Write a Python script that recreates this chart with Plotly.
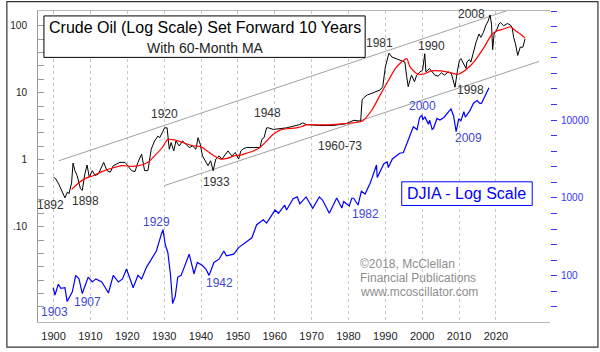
import plotly.graph_objects as go

# ---------------- data ----------------
# Crude oil: actual year, price ($/bbl); plotted 10 years forward
oil_year = [1890.0, 1890.6, 1891.5, 1892.4, 1893.1, 1893.8, 1894.2, 1894.9, 1895.3, 1895.8,
            1896.4, 1897.3, 1897.8, 1898.5, 1899.1, 1899.7, 1900.5, 1901.3, 1902.2, 1903.6,
            1904.5, 1905.4, 1906.2, 1908.0, 1909.4, 1911.2, 1912.1, 1912.9, 1913.9, 1914.7,
            1915.6, 1916.5, 1917.4, 1918.3, 1918.8, 1919.7, 1920.1, 1920.8, 1921.4, 1921.9,
            1922.6, 1923.2, 1924.1, 1925.0, 1925.9, 1926.8, 1927.7, 1928.6, 1929.2, 1929.8,
            1930.4, 1931.3, 1931.9, 1932.6, 1933.3, 1934.0, 1934.9, 1935.7, 1936.6, 1937.3,
            1938.4, 1939.3, 1940.2, 1940.8, 1941.6, 1942.4, 1944.2, 1946.0, 1946.5, 1947.1,
            1947.8, 1948.3, 1949.6, 1951.4, 1953.2, 1955.0, 1956.8, 1957.6, 1958.5, 1962.1,
            1965.7, 1969.2, 1971.5, 1973.3, 1973.7, 1974.2, 1975.1, 1976.4, 1978.6, 1979.3,
            1980.0, 1980.7, 1981.0, 1981.8, 1983.1, 1984.4, 1985.3, 1985.8, 1986.2, 1986.7,
            1987.1, 1987.9, 1988.5, 1989.4, 1990.1, 1990.7, 1991.0, 1992.0, 1993.4, 1994.3,
            1995.2, 1996.1, 1997.0, 1997.9, 1998.3, 1998.9, 1999.5, 2000.1, 2000.5, 2001.0,
            2001.4, 2001.9, 2002.1, 2002.8, 2003.2, 2003.9, 2004.6, 2005.4, 2005.9, 2006.6,
            2007.2, 2007.9, 2008.4, 2008.8, 2009.1, 2009.5, 2010.2, 2010.8, 2011.2, 2012.1,
            2013.1, 2013.9, 2014.4, 2014.8, 2015.3, 2015.9, 2016.6, 2017.3, 2017.9]
oil_price = [0.548, 0.518, 0.422, 0.330, 0.269, 0.330, 0.311, 0.452, 0.891, 0.686,
             0.579, 0.368, 0.348, 0.613, 0.832, 0.548, 0.686, 0.579, 0.613, 0.912,
             0.686, 0.650, 0.813, 0.912, 0.912, 0.686, 0.664, 0.912, 1.21, 0.686,
             0.686, 1.43, 1.90, 2.25, 2.13, 2.67, 2.99, 2.99, 1.43, 1.80,
             1.35, 1.90, 1.60, 1.90, 1.70, 1.52, 1.60, 1.43, 2.13, 1.70,
             1.14, 0.912, 0.813, 0.964, 0.686, 1.02, 1.14, 1.02, 1.21, 1.35,
             1.14, 1.28, 1.02, 1.35, 1.47, 1.52, 1.52, 1.52, 2.01, 2.13,
             2.99, 2.99, 2.83, 2.90, 2.99, 3.16, 3.35, 3.55, 3.35, 3.24,
             3.24, 3.43, 3.88, 3.75, 7.83, 8.47, 9.28, 9.84, 11.0, 12.3,
             24.3, 34.1, 39.0, 34.1, 32.3, 30.5, 28.7, 17.3, 12.3, 15.5,
             18.3, 14.6, 18.3, 20.5, 21.7, 38.3, 20.5, 23.0, 18.3, 17.7,
             19.8, 18.3, 20.5, 19.4, 16.4, 12.1, 20.5, 30.5, 32.3, 28.7,
             25.7, 23.0, 28.7, 31.2, 28.7, 42.8, 56.7, 75.5, 67.2, 79.6,
             100.0, 118.5, 145.0, 106.0, 43.8, 75.5, 86.4, 106.0, 112.0, 100.0,
             108.0, 103.0, 94.4, 67.2, 53.7, 36.1, 47.9, 47.9, 63.7]

# 60-month moving average of oil (actual year, value)
ma_year = [1894.9, 1896.9, 1898.7, 1900.9, 1903.1, 1905.8, 1908.5, 1911.2, 1913.9, 1915.6,
           1917.4, 1919.5, 1921.0, 1922.8, 1924.6, 1926.4, 1928.2, 1929.9, 1931.7, 1933.5,
           1935.3, 1937.1, 1938.9, 1940.7, 1942.4, 1944.2, 1946.0, 1947.8, 1949.6, 1951.4,
           1953.2, 1955.8, 1957.6, 1958.5, 1962.1, 1965.7, 1969.2, 1973.7, 1976.4, 1978.6,
           1980.9, 1982.7, 1984.4, 1985.8, 1986.7, 1988.5, 1990.3, 1992.5, 1995.2, 1997.9,
           1999.7, 2001.4, 2003.2, 2005.0, 2006.8, 2008.1, 2009.0, 2010.4, 2012.1, 2013.9,
           2015.3, 2016.6, 2017.9]
ma_value = [0.360, 0.452, 0.530, 0.579, 0.664, 0.745, 0.813, 0.796, 0.832, 0.912,
            1.14, 1.52, 2.01, 1.97, 1.84, 1.70, 1.60, 1.57, 1.35, 1.14,
            1.02, 1.045, 1.14, 1.17, 1.25, 1.35, 1.52, 1.90, 2.39, 2.76,
            2.90, 2.99, 3.16, 3.32, 3.32, 3.35, 3.47, 3.75, 5.57, 9.28,
            15.5, 23.0, 28.7, 32.3, 24.3, 19.4, 18.9, 21.2, 21.2, 19.8,
            18.9, 21.2, 25.7, 34.1, 47.9, 63.7, 75.5, 84.4, 89.4, 96.7,
            84.4, 75.5, 65.9]

# DJIA (year, index value)
dj_year = [1899.9, 1900.4, 1901.3, 1902.0, 1903.1, 1903.7, 1905.1, 1906.0, 1906.9, 1907.8,
           1909.4, 1910.5, 1911.5, 1913.1, 1914.9, 1916.2, 1917.6, 1918.7, 1919.8, 1921.6,
           1922.9, 1923.9, 1925.2, 1926.5, 1927.9, 1929.2, 1929.7, 1930.3, 1931.0, 1931.7,
           1932.3, 1933.0, 1933.7, 1934.6, 1936.8, 1938.1, 1939.0, 1940.4, 1941.3, 1942.2,
           1943.5, 1944.9, 1946.2, 1946.9, 1948.9, 1950.2, 1952.4, 1953.8, 1955.1, 1956.9,
           1957.8, 1960.1, 1961.0, 1962.7, 1963.2, 1965.0, 1966.1, 1966.8, 1968.5, 1970.3,
           1972.1, 1973.0, 1974.8, 1976.8, 1978.2, 1978.7, 1980.2, 1980.9, 1981.4, 1982.6,
           1983.5, 1984.5, 1985.9, 1987.6, 1987.8, 1989.6, 1990.5, 1990.8, 1991.9, 1993.9,
           1994.9, 1995.9, 1996.9, 1997.6, 1998.6, 1999.3, 1999.9, 2000.2, 2000.7, 2001.7,
           2002.0, 2002.7, 2003.1, 2004.0, 2004.8, 2005.9, 2007.0, 2007.8, 2008.5, 2008.9,
           2009.2, 2009.9, 2010.5, 2011.3, 2011.7, 2012.9, 2013.9, 2014.9, 2015.7, 2016.1,
           2016.9, 2017.9, 2018.1]
dj_value = [70, 56.5, 77.6, 68.9, 70, 46.5, 62, 101, 91.4, 59,
            96, 83, 91, 83, 60, 101, 83, 91, 122, 70,
            101, 91, 128, 163, 208, 337, 390, 252, 199, 106,
            44, 54, 96, 101, 189, 106, 148, 135, 122, 101,
            148, 163, 208, 180, 189, 230, 279, 307, 452, 523,
            474, 698, 634, 807, 698, 979, 1030, 840, 1030, 733,
            1030, 933, 634, 1000, 742, 900, 785, 990, 990, 810,
            1220, 1120, 1550, 2650, 1830, 2750, 2900, 2450, 3170, 3750,
            3830, 5100, 6450, 8200, 7550, 10800, 11500, 10100, 11000, 8850,
            10000, 7600, 7900, 10500, 10000, 10800, 12600, 13900, 11400, 8800,
            7100, 10400, 9800, 12800, 10900, 13100, 16500, 17800, 16300, 16500,
            19800, 24700, 26000]

# channel trend lines (plotted year, oil price)
upper_chan_year = [1901.4, 2025.8]
upper_chan_val = [0.96, 190]
lower_chan_year = [1930.1, 2031.7]
lower_chan_val = [0.41, 29.4]

SHIFT = 10
x_ticks = list(range(1900, 2030, 10))

# ticks every fifth of a decade; only decades labelled
oil_tick_exp = list(range(-11, 11))          # exponent * 5
oil_tick_labels = {-5: ".10", 0: "1", 5: "10", 10: "100"}
dj_tick_exp = list(range(8, 28))
dj_tick_labels = {10: "100", 15: "1000", 20: "10000"}

# ---------------- layout helpers ----------------
L, T, W, H = 32, 10, 518, 315
FIG_W, FIG_H = 600, 352


def px(x):
    return (x - L) / W


def py(y):
    return (T + H - y) / H


FONT = "Liberation Sans, Arial, sans-serif"
BLUE = "#0000ff"
LBLUE = "#4048d0"

fig = go.Figure()
fig.add_trace(go.Scatter(x=upper_chan_year, y=upper_chan_val, mode="lines",
                         line=dict(color="#a0a0a0", width=1), yaxis="y", hoverinfo="skip"))
fig.add_trace(go.Scatter(x=lower_chan_year, y=lower_chan_val, mode="lines",
                         line=dict(color="#a0a0a0", width=1), yaxis="y", hoverinfo="skip"))
fig.add_trace(go.Scatter(x=[y + SHIFT for y in oil_year], y=oil_price, mode="lines",
                         line=dict(color="#000000", width=1), yaxis="y"))
fig.add_trace(go.Scatter(x=[y + SHIFT for y in ma_year], y=ma_value, mode="lines",
                         line=dict(color="#ff0000", width=1.2, shape="spline", smoothing=0.6),
                         yaxis="y"))
fig.add_trace(go.Scatter(x=dj_year, y=dj_value, mode="lines",
                         line=dict(color=BLUE, width=1.2), yaxis="y2"))

fig.update_layout(
    width=FIG_W, height=FIG_H,
    margin=dict(l=L, r=FIG_W - L - W, t=T, b=FIG_H - T - H),
    paper_bgcolor="white", plot_bgcolor="white",
    showlegend=False,
    font=dict(family=FONT, color="#222"),
    xaxis=dict(range=[1895.79, 2034.66], tickvals=x_ticks, ticktext=[str(v) for v in x_ticks],
               showgrid=True, gridcolor="#c8c8c8", griddash="dot", gridwidth=1,
               showline=True, linecolor="#b8b8b8", linewidth=1, mirror=True,
               ticks="", zeroline=False, tickfont=dict(size=11, color="#222"),
               ticklabelstandoff=4),
    yaxis=dict(type="log", range=[-2.425, 2.221],
               tickvals=[10 ** (k / 5) for k in oil_tick_exp],
               ticktext=[oil_tick_labels.get(k, "") for k in oil_tick_exp],
               showgrid=False, zeroline=False, showline=True, linecolor="#999", linewidth=1,
               ticks="inside", ticklen=6, tickcolor="#999",
               tickfont=dict(size=10, color="#222"), ticklabelstandoff=8),
    yaxis2=dict(type="log", range=[1.405, 5.402], overlaying="y", side="right",
                tickvals=[10 ** (k / 5) for k in dj_tick_exp],
                ticktext=[dj_tick_labels.get(k, "") for k in dj_tick_exp],
                showgrid=False, zeroline=False, showline=False,
                ticks="outside", ticklen=6, tickcolor="#3333ff",
                tickfont=dict(size=10, color="#3333ff"), ticklabelstandoff=2),
)

shapes = [
    dict(type="rect", xref="paper", yref="paper", x0=px(0.5), x1=px(598.5), y0=py(0.5), y1=py(350.5),
         line=dict(color="#333", width=1.2), layer="above"),
    dict(type="rect", xref="paper", yref="paper", x0=px(38), x1=px(363), y0=py(57), y1=py(15),
         line=dict(color="#000", width=1), fillcolor="white", layer="above"),
    dict(type="rect", xref="paper", yref="paper", x0=px(400), x1=px(532), y0=py(207), y1=py(183),
         line=dict(color=BLUE, width=1), fillcolor="white", layer="above"),
]
fig.update_layout(shapes=shapes)


def label(text, x, y, color="#333", size=12, xanchor="center"):
    fig.add_annotation(text=text, xref="paper", yref="paper", x=px(x), y=py(y),
                       xanchor=xanchor, yanchor="middle", showarrow=False,
                       font=dict(size=size, color=color, family=FONT))


label("Crude Oil (Log Scale) Set Forward 10 Years", 201, 27, color="#000", size=16)
label("With 60-Month MA", 201, 47, color="#222", size=14)
label("DJIA - Log Scale", 466, 195, color=BLUE, size=16)

for t, x, y in [("1892", 45, 206), ("1898", 80, 202), ("1920", 160, 114), ("1948", 264, 113),
                ("1933", 213, 183), ("1960-73", 338, 147), ("1981", 377, 42), ("1990", 430, 45),
                ("2008", 471, 13), ("1998", 470, 90)]:
    label(t, x, y, color="#333", size=12)

for t, x, y in [("1929", 152, 224), ("1903", 49, 315), ("1907", 82, 305), ("1942", 216, 286),
                ("1982", 363, 216), ("2000", 421, 106), ("2009", 468, 139)]:
    label(t, x, y, color=LBLUE, size=12)

for i, t in enumerate(["©2018, McClellan", "Financial Publications", "www.mcoscillator.com"]):
    label(t, 356, 266 + 14.5 * i, color="#8e8e8e", size=12, xanchor="left")

fig.write_html("out.html")
